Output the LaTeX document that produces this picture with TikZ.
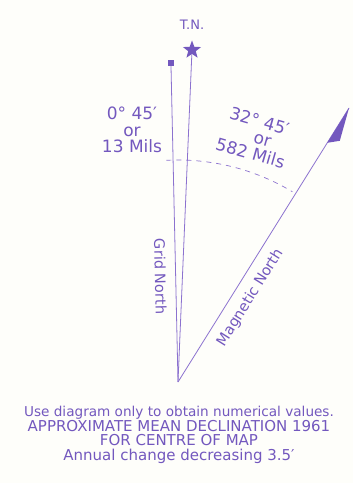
\documentclass[tikz,border=0pt]{standalone}
\usepackage{fontspec}
\setmainfont{DejaVu Sans}
\usetikzlibrary{calc,positioning,shapes.geometric}
\definecolor{MapPurple}{HTML}{7358BE}
\definecolor{LinePurple}{HTML}{8C72CF}
\definecolor{PaperCream}{HTML}{FEFEFA}

\begin{document}
\begin{tikzpicture}[
    x=1pt,y=1pt,
    northline/.style={color=LinePurple,line width=0.8pt},
    angletext/.style={color=MapPurple,align=center,
      font=\fontsize{17}{16.5}\selectfont},
    linetext/.style={color=MapPurple,sloped,below=6pt,
      font=\fontsize{14.5}{17}\selectfont},
    notetext/.style={color=MapPurple,align=center,
      font=\fontsize{15}{14.7}\selectfont}
  ]
    \fill[PaperCream] (0,0) rectangle (353,483);
    \useasboundingbox (0,0) rectangle (353,483);
    \coordinate (base) at (178,101);
    \coordinate (magtip) at (349,375);
    \node[fill=MapPurple,minimum size=6pt,inner sep=0pt] (gridtop) at (171,420) {};
    \node[star,star points=5,star point ratio=2.4,fill=MapPurple,
      minimum size=19pt,inner sep=0pt] (tnstar) at (192,433) {};
    \node[color=MapPurple,font=\fontsize{13}{15}\selectfont] (tn) at (192,458) {T.N.};
    \draw[northline] (gridtop.south) -- node[linetext,pos=0.665] (gridlabel) {Grid North} (base);
    \draw[northline] (tnstar) -- (base);
    \draw[northline] (base) -- node[linetext,pos=0.34] (maglabel) {Magnetic North} (magtip);
    % half arrow on the magnetic line
    \coordinate (flagfoot) at ($(base)!0.873!(magtip)$);
    \fill[MapPurple] (magtip) -- (flagfoot) -- ($(flagfoot)+(12.5,2)$) -- cycle;
    \draw[LinePurple,line width=0.7pt,dash pattern=on 5pt off 5pt]
      ($(base)+(93:222)$) arc[start angle=93,end angle=59,radius=222];
    \node[angletext] (gridangle) at (132,353) {0° 45′\\or\\13 Mils};
    \node[angletext,rotate=-16] (magangle) at (255,346) {32° 45′\\\hspace*{16pt}or\\582 Mils};
    \node[notetext] (note) at (179,48) {%
      {\fontsize{13.6}{14.7}\selectfont Use diagram only to obtain numerical values.}\\
      APPROXIMATE MEAN DECLINATION 1961\\
      FOR CENTRE OF MAP\\
      Annual change decreasing 3.5′};
  \end{tikzpicture}
\end{document}
